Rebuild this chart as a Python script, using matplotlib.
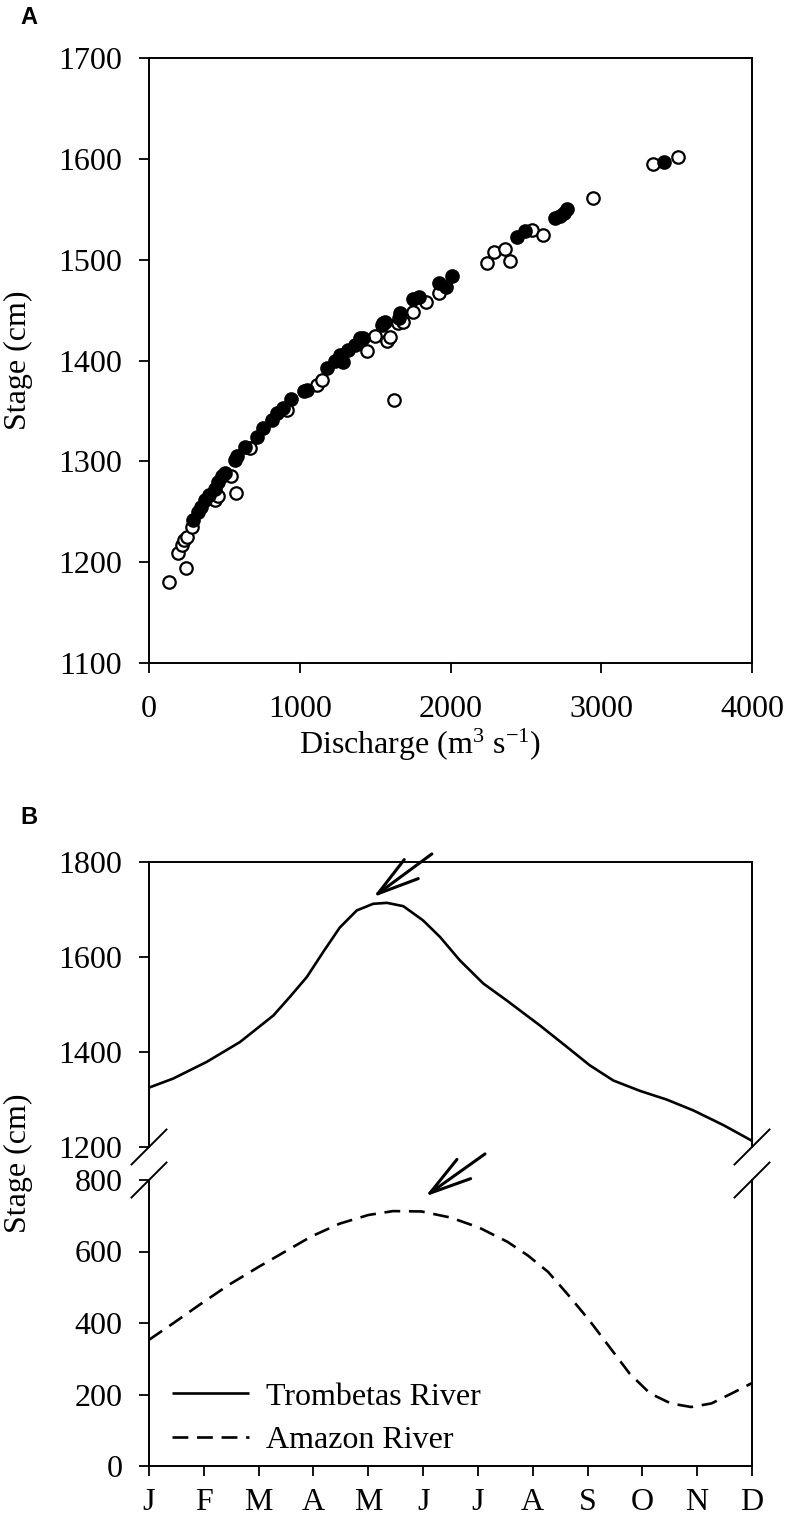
import matplotlib
matplotlib.use("Agg")
import matplotlib.pyplot as plt

plt.rcParams['font.family'] = ['Liberation Serif', 'DejaVu Serif']
plt.rcParams['mathtext.fontset'] = 'custom'
plt.rcParams['mathtext.rm'] = 'Liberation Serif'
plt.rcParams['mathtext.it'] = 'Liberation Serif:italic'

# ---------------- Panel A data ----------------
open_q = [135, 243, 195, 221, 235, 250, 283, 438, 455, 542, 577, 670, 913, 1116, 1145,
          1444, 1499, 1577, 1599, 1625, 1654, 1687, 1753, 1837, 1926, 2240, 2288, 2361,
          2395, 2538, 2615, 2947, 3345, 3507]
open_h = [1180, 1194, 1209, 1217, 1222, 1225, 1235, 1262, 1266, 1285, 1269, 1313, 1351, 1376, 1381,
          1409, 1424, 1419, 1423, 1361, 1437, 1438, 1448, 1458, 1467, 1497, 1508, 1511,
          1499, 1529, 1524, 1561, 1595, 1602]
filled_q = [290, 327, 343, 371, 400, 438, 460, 482, 504, 570, 582, 637, 714, 758, 814, 847,
            891, 940, 1028, 1046, 1183, 1234, 1267, 1289, 1322, 1366, 1400, 1422, 1543, 1554,
            1565, 1660, 1665, 1753, 1793, 1924, 1970, 2008, 2439, 2494, 2693, 2726, 2750, 2770, 3416]
filled_h = [1242, 1250, 1255, 1262, 1267, 1273, 1280, 1285, 1288, 1301, 1305, 1314, 1324, 1333, 1341, 1348,
            1353, 1362, 1370, 1371, 1393, 1400, 1405, 1399, 1410, 1415, 1422, 1422, 1435, 1437,
            1438, 1442, 1447, 1461, 1463, 1477, 1473, 1484, 1522, 1528, 1541, 1543, 1546, 1550, 1597]

# ---------------- Panel B data ----------------
month_labels = ['J', 'F', 'M', 'A', 'M', 'J', 'J', 'A', 'S', 'O', 'N', 'D']
trom_t = [0.0, 0.44, 1.05, 1.66, 2.27, 2.57, 2.88, 3.18, 3.48, 3.79, 4.09, 4.34, 4.64, 5.0,
          5.31, 5.67, 6.10, 6.52, 7.13, 7.62, 8.04, 8.47, 8.96, 9.44, 9.93, 10.48, 11.0]
trom_v = [1325, 1344, 1379, 1421, 1477, 1516, 1558, 1611, 1662, 1698, 1712, 1714, 1707, 1677,
          1642, 1593, 1544, 1509, 1456, 1411, 1372, 1340, 1318, 1300, 1277, 1246, 1213]
amaz_t = [0.0, 0.43, 0.95, 1.47, 2.0, 2.52, 2.96, 3.48, 4.0, 4.45, 4.97, 5.5, 6.02, 6.54,
          6.91, 7.28, 7.65, 8.03, 8.4, 8.77, 9.14, 9.52, 9.89, 10.26, 10.63, 11.0]
amaz_v = [353, 398, 454, 508, 557, 603, 642, 678, 702, 713, 712, 695, 667, 627,
          589, 543, 478, 408, 333, 258, 203, 175, 165, 175, 203, 232]

W, H = 788, 1526
fig = plt.figure(figsize=(W / 100, H / 100), dpi=100)

def rect(l, t, r, b):
    return [l / W, 1 - b / H, (r - l) / W, (b - t) / H]

FS = 23
tickkw = dict(direction='out', length=7.2, width=1.3, labelsize=FS)

# ---------------- Panel A ----------------
axA = fig.add_axes(rect(149, 58, 752, 663))
axA.scatter(open_q, open_h, s=80, facecolors='white', edgecolors='black', linewidths=1.6, zorder=2)
axA.scatter(filled_q, filled_h, s=80, facecolors='black', edgecolors='black', linewidths=1.6, zorder=3)
axA.set_xlim(0, 4000)
axA.set_ylim(1100, 1700)
axA.set_xticks([0, 1000, 2000, 3000, 4000])
axA.set_yticks(range(1100, 1701, 100))
axA.tick_params(**tickkw)
axA.tick_params(axis='x', pad=16)
axA.tick_params(axis='y', pad=12)
for s in axA.spines.values():
    s.set_linewidth(1.4)
fig.text(420 / W, 1 - 745 / H, 'Discharge (m$^{3}$ s$^{-1}$)', fontsize=FS, ha='center', va='center')
fig.text(18 / W, 1 - 360 / H, 'Stage (cm)', fontsize=FS, rotation=90, ha='center', va='center')
fig.text(20 / W, 1 - 18 / H, 'A', fontsize=17, fontweight='bold', family='Liberation Sans',
         ha='left', va='center')

# ---------------- Panel B ----------------
axT = fig.add_axes(rect(149, 862, 752, 1147))
axL = fig.add_axes(rect(149, 1180, 752, 1466))

lt, = axT.plot(trom_t, trom_v, color='black', lw=1.9, solid_capstyle='butt', solid_joinstyle='round')
la, = axL.plot(amaz_t, amaz_v, color='black', lw=1.9, ls=(0, (6, 3.3)))

for ax in (axT, axL):
    ax.set_xlim(0, 11)
    for s in ax.spines.values():
        s.set_linewidth(1.4)
axT.set_ylim(1200, 1800)
axT.set_yticks([1200, 1400, 1600, 1800])
axL.set_ylim(0, 800)
axL.set_yticks([0, 200, 400, 600, 800])
axT.spines['bottom'].set_visible(False)
axL.spines['top'].set_visible(False)
axT.set_xticks([])
axT.tick_params(**tickkw)
axL.tick_params(**tickkw)
axT.tick_params(axis='y', pad=12)
axL.tick_params(axis='y', pad=12)
axL.set_xticks(range(12))
axL.set_xticklabels(month_labels)
axL.tick_params(axis='x', pad=9)

# break marks
dx = 17.5 / 603
dyT = 17.5 / 285
dyL = 17.5 / 286
for x0 in (0, 1):
    axT.plot([x0 - dx, x0 + dx], [-dyT, dyT], transform=axT.transAxes, color='black',
             lw=1.4, clip_on=False)
    axL.plot([x0 - dx, x0 + dx], [1 - dyL, 1 + dyL], transform=axL.transAxes, color='black',
             lw=1.4, clip_on=False)

# arrows marking peaks
arrowprops = dict(arrowstyle='->,head_length=3.0,head_width=0.85', color='black', lw=2.2,
                  shrinkA=0, shrinkB=0, mutation_scale=10)
axT.annotate('', xy=(4.09, 1726), xytext=(5.16, 1817), arrowprops=arrowprops,
             annotation_clip=False)
axL.annotate('', xy=(5.04, 754), xytext=(6.13, 873), arrowprops=arrowprops,
             annotation_clip=False)

axL.legend([lt, la], ['Trombetas River', 'Amazon River'], loc='upper left', frameon=False,
           fontsize=FS, handlelength=2.4, handletextpad=0.55, labelspacing=0.45,
           borderaxespad=0, borderpad=0, bbox_to_anchor=(23 / 603, 0.293))

fig.text(20 / W, 1 - 818 / H, 'B', fontsize=17, fontweight='bold', family='Liberation Sans',
         ha='left', va='center')
fig.text(18 / W, 1 - 1163 / H, 'Stage (cm)', fontsize=FS, rotation=90, ha='center', va='center')

fig.savefig('out.png', dpi=100)
